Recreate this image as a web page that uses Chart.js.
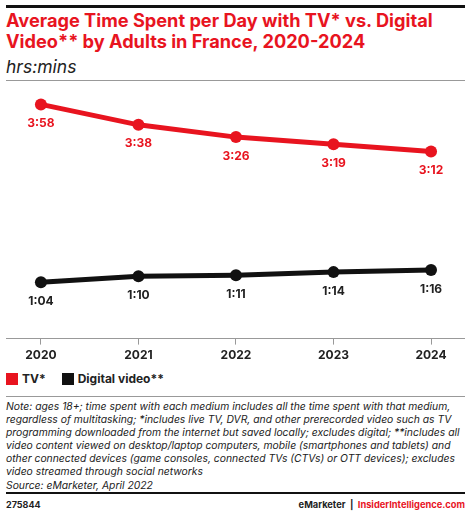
<!DOCTYPE html>
<html>
<head>
<meta charset="utf-8">
<script src="https://cdn.jsdelivr.net/npm/chart.js@4.4.1/dist/chart.umd.min.js"></script>
<style>
  html, body { margin: 0; padding: 0; background: #fff; }
  body { width: 470px; height: 514px; position: relative; overflow: hidden; font-family: "Inter", "Liberation Sans", sans-serif; color: #222; }
  .rule { position: absolute; left: 6px; width: 459px; }
  #topbar { top: 5px; height: 3px; background: #111; }
  #title { position: absolute; left: 6px; top: 10px; width: 464px; font-weight: 700; font-size: 18.2px; line-height: 21px; color: #e8141f; white-space: nowrap; }
  #subtitle { position: absolute; left: 6px; top: 56px; font-style: italic; font-size: 17.5px; color: #222; }
  #rule1 { top: 80px; height: 1px; background: #999; }
  #wrap { position: absolute; left: 0; top: 81px; width: 470px; height: 287px; }
  #legend { position: absolute; left: 6px; top: 371px; font-weight: 700; font-size: 12px; display: flex; align-items: center; }
  #legend .sw { display: inline-block; width: 12px; height: 12px; margin-right: 4px; }
  #legend .item { display: flex; align-items: center; margin-right: 16px; }
  #rule2 { top: 396px; height: 1px; background: #999; }
  #note { position: absolute; left: 6px; top: 400px; font-style: italic; font-size: 10.35px; line-height: 13.1px; color: #222; white-space: nowrap; }
  #rule3 { top: 492px; height: 2px; background: #111; }
  #foot-l { position: absolute; left: 6px; top: 499px; font-size: 9px; font-weight: 700; color: #222; }
  #foot-r { position: absolute; right: 5px; top: 499px; font-size: 9.3px; font-weight: 700; color: #222; }
  #foot-r .red { color: #e8141f; }
</style>
</head>
<body>
<div class="rule" id="topbar"></div>
<div id="title">Average Time Spent per Day with TV* vs. Digital<br>Video** by Adults in France, 2020-2024</div>
<div id="subtitle">hrs:mins</div>
<div class="rule" id="rule1"></div>
<div id="wrap"><canvas id="graf"></canvas></div>
<div id="legend">
  <span class="item"><span class="sw" style="background:#e8141f"></span>TV*</span>
  <span class="item"><span class="sw" style="background:#111"></span>Digital video**</span>
</div>
<div class="rule" id="rule2"></div>
<div id="note">Note: ages 18+; time spent with each medium includes all the time spent with that medium,<br>regardless of multitasking; *includes live TV, DVR, and other prerecorded video such as TV<br>programming downloaded from the internet but saved locally; excludes digital; **includes all<br>video content viewed on desktop/laptop computers, mobile (smartphones and tablets) and<br>other connected devices (game consoles, connected TVs (CTVs) or OTT devices); excludes<br>video streamed through social networks<br>Source: eMarketer, April 2022</div>
<div class="rule" id="rule3"></div>
<div id="foot-l">275844</div>
<div id="foot-r">eMarketer &nbsp;|&nbsp; <span class="red">InsiderIntelligence.com</span></div>

<script>
"use strict";

// minutes per day
const aar = [2020, 2021, 2022, 2023, 2024];
const tvMinutter = [238, 218, 206, 199, 192];
const digitalMinutter = [64, 70, 71, 74, 76];

const ROED = "#e8141f";
const SORT = "#111111";

function tilTimer(min) {
  const h = Math.floor(min / 60);
  const m = min % 60;
  return h + ":" + String(m).padStart(2, "0");
}

const etiketter = {
  id: "etiketter",
  afterDatasetsDraw(chart) {
    const ctx = chart.ctx;
    ctx.save();
    ctx.font = "700 12px Inter, 'Liberation Sans', sans-serif";
    ctx.textAlign = "center";
    ctx.textBaseline = "middle";
    chart.data.datasets.forEach((ds, i) => {
      chart.getDatasetMeta(i).data.forEach((pt, j) => {
        ctx.fillStyle = ds.labelColor;
        ctx.fillText(tilTimer(ds.data[j].y), pt.x, pt.y + 19);
      });
    });
    ctx.restore();
  }
};

new Chart(document.getElementById("graf").getContext("2d"), {
  type: "line",
  data: {
    datasets: [
      { label: "TV*", data: aar.map((a, i) => ({ x: a, y: tvMinutter[i] })), borderColor: ROED, backgroundColor: ROED, labelColor: ROED, borderWidth: 5, pointRadius: 6, pointBorderWidth: 0, tension: 0 },
      { label: "Digital video**", data: aar.map((a, i) => ({ x: a, y: digitalMinutter[i] })), borderColor: SORT, backgroundColor: SORT, labelColor: "#222", borderWidth: 5, pointRadius: 6, pointBorderWidth: 0, tension: 0 }
    ]
  },
  options: {
    responsive: true,
    maintainAspectRatio: false,
    animation: false,
    clip: false,
    layout: { padding: { left: 6, right: 5, top: 2, bottom: 1 } },
    plugins: { legend: { display: false }, tooltip: { enabled: false } },
    scales: {
      x: {
        type: "linear",
        min: 2019.642,
        max: 2024.338,
        afterBuildTicks: axis => { axis.ticks = aar.map(v => ({ value: v })); },
        ticks: { callback: v => String(v), color: "#222", font: { family: "Inter", weight: "700", size: 12 }, padding: 4, maxRotation: 0 },
        grid: { display: true, drawOnChartArea: false, drawTicks: true, tickLength: 6, color: "#999" },
        border: { display: true, color: "#999", width: 1 }
      },
      y: {
        display: false,
        min: 9,
        max: 255
      }
    }
  },
  plugins: [etiketter]
});
</script>
</body>
</html>
